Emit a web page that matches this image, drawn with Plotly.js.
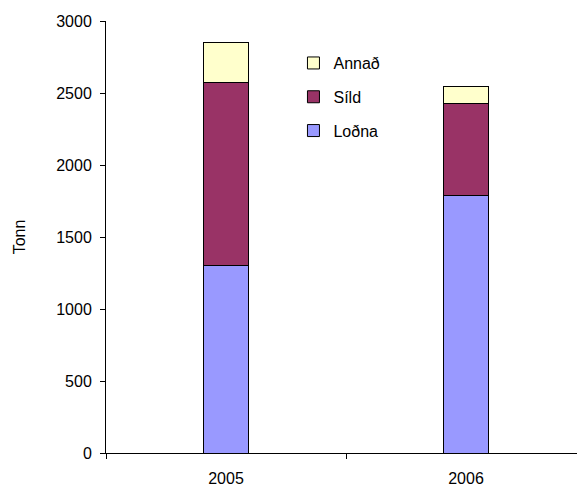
<!DOCTYPE html>
<html>
<head>
<meta charset="utf-8">
<script src="https://cdn.plot.ly/plotly-3.0.1.min.js"></script>
<style>html,body{margin:0;padding:0;background:#fff;}#chart{width:577px;height:488px;}</style>
</head>
<body>
<div id="chart"></div>
<script>
const years = ["2005", "2006"];
const lodna = [1300, 1790];
const sild = [1275, 640];
const annad = [275, 115];
const seriesNames = ["Loðna", "Síld", "Annað"];
const seriesColors = ["#9999FF", "#993366", "#FFFFCC"];
const yTicks = [0, 500, 1000, 1500, 2000, 2500, 3000];

const seriesValues = [lodna, sild, annad];
const traces = seriesValues.map((vals, i) => ({
  type: "bar",
  name: seriesNames[i],
  x: years,
  y: vals,
  width: 0.19,
  legendgroup: "g" + i,
  legendrank: 1000 - i,
  marker: {color: seriesColors[i], line: {color: "#000", width: 1}},
  hoverinfo: "x+y+name"
}));

const font = "Liberation Sans, Arial, sans-serif";
const layout = {
  width: 577, height: 488,
  margin: {l: 106, r: 0, t: 21, b: 35, pad: 0},
  barmode: "stack",
  paper_bgcolor: "#fff", plot_bgcolor: "#fff",
  font: {family: font, size: 16, color: "#000"},
  showlegend: true,
  legend: {
    x: 0.398, y: 0.942, xanchor: "left", yanchor: "top",
    traceorder: "grouped", tracegroupgap: 10,
    font: {family: font, size: 16, color: "#000"},
    bgcolor: "rgba(0,0,0,0)", itemwidth: 30
  },
  xaxis: {
    type: "category",
    range: [-0.5, 1.4625],
    showline: true, linecolor: "#000", linewidth: 1,
    ticks: "outside", tickson: "boundaries", ticklen: 5, tickcolor: "#000",
    ticklabelstandoff: 11,
    showgrid: false, zeroline: false,
    tickfont: {family: font, size: 16, color: "#000"}
  },
  yaxis: {
    range: [0, 3000],
    tickvals: yTicks,
    showline: true, linecolor: "#000", linewidth: 1,
    ticks: "outside", ticklen: 5, tickcolor: "#000",
    ticklabelstandoff: 5,
    showgrid: false, zeroline: false,
    tickfont: {family: font, size: 16, color: "#000"},
    title: {text: "Tonn", font: {family: font, size: 16, color: "#000"}, standoff: 26}
  }
};

Plotly.newPlot("chart", traces, layout, {displayModeBar: false, staticPlot: true});
</script>
</body>
</html>
